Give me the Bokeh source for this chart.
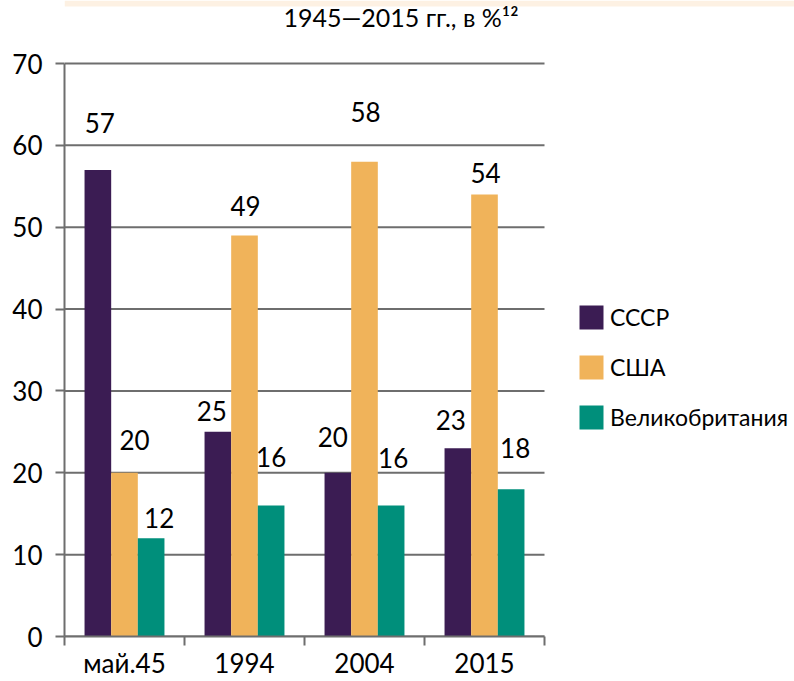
from bokeh.plotting import figure
from bokeh.models import (ColumnDataSource, Range1d, FixedTicker, LabelSet,
                          Label, Legend, LegendItem, BoxAnnotation)
from bokeh.core.properties import value
from bokeh.embed import file_html
from bokeh.resources import INLINE

# ---- data ----
categories = ["май.45", "1994", "2004", "2015"]
series_names = ["СССР", "США", "Великобритания"]
ussr = [57, 25, 20, 23]
usa = [20, 49, 58, 54]
uk = [12, 16, 16, 18]
y_ticks = [0, 10, 20, 30, 40, 50, 60, 70]
title_text = "1945—2015 гг., в %¹²"

# ---- styling / layout ----
FONT = "Lato"
colors = ["#3b1c53", "#f0b35a", "#008f7b"]
grid_color = "#6e6e6e"
band_color = "#fdf1e3"
bar_width = 0.222
offsets = [-bar_width, 0.0, bar_width]
# label nudges in pixels (right, up from bar top) per series, per category
label_dx = [[2, -6, -5, -7], [10, 1, 1, 1], [8, 0, 2, 4]]
label_dy = [[47, 21, 36, 28], [33, 29, 50, 21], [20, 49, 48, 41]]

W, H = 794, 681
LEFT, BOTTOM = 64, 45
frame_w = W - LEFT
frame_h = H - BOTTOM
plot_w = 480          # pixels used by the category area
plot_h = 573          # pixels used by 0..70

series_values = [ussr, usa, uk]
n = len(categories)
x_end = n * frame_w / plot_w
y_end = y_ticks[-1] * frame_h / plot_h

p = figure(width=W, height=H,
           x_range=Range1d(0, x_end), y_range=Range1d(y_ticks[0], y_end),
           output_backend="svg", toolbar_location=None,
           min_border_left=LEFT, min_border_right=0,
           min_border_top=0, min_border_bottom=BOTTOM)
p.outline_line_color = None
p.background_fill_color = "white"
p.border_fill_color = "white"
p.xgrid.visible = False
p.ygrid.visible = False

# thin pale band along the top edge
p.add_layout(BoxAnnotation(top=frame_h, bottom=frame_h - 6,
                           top_units="screen", bottom_units="screen",
                           fill_color=band_color, fill_alpha=1,
                           line_color=None, level="underlay"))

# horizontal grid lines over the category area only
p.segment(x0=[0] * len(y_ticks), x1=[n] * len(y_ticks), y0=y_ticks, y1=y_ticks,
          line_color=grid_color, line_width=2)

# y axis
p.yaxis.ticker = FixedTicker(ticks=y_ticks, minor_ticks=[])
p.yaxis.bounds = (y_ticks[0], y_ticks[-1])
p.yaxis.axis_line_color = grid_color
p.yaxis.axis_line_width = 2
p.yaxis.major_tick_line_color = grid_color
p.yaxis.major_tick_line_width = 2
p.yaxis.major_tick_out = 9
p.yaxis.major_tick_in = 0
p.yaxis.minor_tick_line_color = None
p.yaxis.major_label_standoff = 13
p.yaxis.major_label_text_font = FONT
p.yaxis.major_label_text_font_size = "26px"
p.yaxis.major_label_text_color = "black"

# x axis: labels at category centres, tick marks at category boundaries
centres = [i + 0.5 for i in range(n)]
bounds = [float(i) for i in range(n + 1)]
p.xaxis.ticker = FixedTicker(ticks=centres, minor_ticks=bounds)
p.xaxis.bounds = (0, n)
p.xaxis.major_label_overrides = {c: cat for c, cat in zip(centres, categories)}
p.xaxis.axis_line_color = grid_color
p.xaxis.axis_line_width = 2
p.xaxis.major_tick_line_color = None
p.xaxis.major_tick_out = 0
p.xaxis.major_tick_in = 0
p.xaxis.minor_tick_line_color = grid_color
p.xaxis.minor_tick_line_width = 2
p.xaxis.minor_tick_out = 9
p.xaxis.minor_tick_in = 0
p.xaxis.major_label_standoff = 1
p.xaxis.major_label_text_font = FONT
p.xaxis.major_label_text_font_size = "26px"
p.xaxis.major_label_text_color = "black"

# bars + value labels
renderers = []
for s, (name, vals) in enumerate(zip(series_names, series_values)):
    xs = [c + offsets[s] for c in centres]
    src = ColumnDataSource(dict(
        x=xs, top=vals, text=[str(v) for v in vals],
        dx=label_dx[s], dy=label_dy[s]))
    r = p.vbar(x="x", top="top", bottom=0, width=bar_width, source=src,
               fill_color=colors[s], line_color=None)
    renderers.append(r)
    p.add_layout(LabelSet(x="x", y="top", text="text", source=src,
                          x_offset="dx", y_offset="dy",
                          text_align="center", text_baseline="middle",
                          text_font=value(FONT), text_font_size=value("26px"),
                          text_color="black"))

legend = Legend(items=[LegendItem(label=nm, renderers=[r])
                       for nm, r in zip(series_names, renderers)],
                location=(512, 204), orientation="vertical",
                glyph_width=30, glyph_height=30, label_height=30,
                label_standoff=4, spacing=20, padding=0, margin=0,
                border_line_color=None, background_fill_alpha=0,
                label_text_font=FONT, label_text_font_size="23px",
                label_text_color="black", label_text_baseline="middle")
p.add_layout(legend)

# chart subtitle, right-aligned near the top
p.add_layout(Label(x=454, y=frame_h - 16, x_units="screen", y_units="screen",
                   text=title_text, text_align="right", text_baseline="middle",
                   text_font=FONT, text_font_size="25px", text_color="black"))

open("out.html", "w").write(file_html(p, INLINE))
